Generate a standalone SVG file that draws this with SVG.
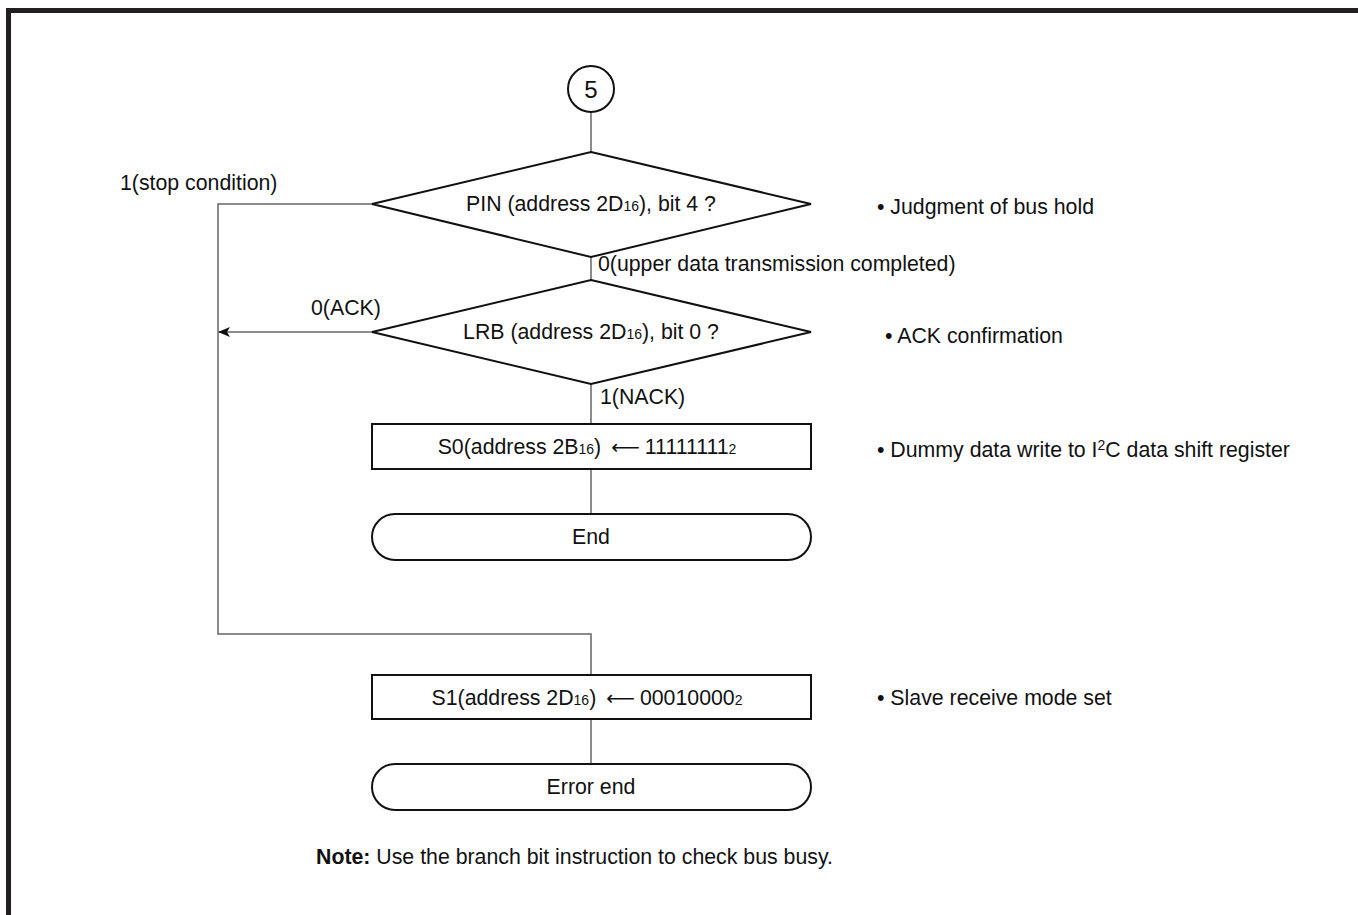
<svg xmlns="http://www.w3.org/2000/svg" width="1358" height="915" viewBox="0 0 1358 915">
<style>
  text { font-family: "Liberation Sans", Arial, sans-serif; font-size: 21.3px; fill: #111; }
  .c { text-anchor: middle; }
  .sub { font-size: 14px; }
  .arr { font-family: "DejaVu Sans", sans-serif; font-size: 20px; }
  .shape { fill: #fff; stroke: #111; stroke-width: 2; }
  .conn { fill: none; stroke: #666; stroke-width: 1.5; }
</style>
<defs>
  <marker id="ah" markerWidth="12" markerHeight="10" refX="11" refY="5" orient="auto" markerUnits="userSpaceOnUse">
    <path d="M0,0 L12,5 L0,10 L3,5 Z" fill="#111"/>
  </marker>
</defs>
<rect x="0" y="0" width="1358" height="915" fill="#fff"/>
<g id="frame">
  <rect x="6" y="8" width="1352" height="5" fill="#231f20"/>
  <rect x="6" y="8" width="5" height="907" fill="#231f20"/>
</g>
<g id="connectors">
  <path class="conn" d="M591,112 V152"/>
  <path class="conn" d="M591,257 V280"/>
  <path class="conn" d="M591,384 V424"/>
  <path class="conn" d="M591,469 V514"/>
  <path class="conn" d="M372,204 H218 V634 H591 V675"/>
  <path class="conn" d="M372,332 H219" marker-end="url(#ah)"/>
  <path class="conn" d="M591,719 V764"/>
</g>
<g id="n-start">
  <circle class="shape" cx="591" cy="89" r="23"/>
  <text class="c" x="591" y="98" style="font-size:24px">5</text>
</g>
<g id="n-pin">
  <polygon class="shape" points="591,152 811,204 591,257 372,204"/>
  <text class="c" x="591" y="211">PIN (address 2D<tspan class="sub">16</tspan>), bit 4 ?</text>
</g>
<g id="n-lrb">
  <polygon class="shape" points="591,280 811,332 591,384 372,332"/>
  <text class="c" x="591" y="339">LRB (address 2D<tspan class="sub">16</tspan>), bit 0 ?</text>
</g>
<g id="n-s0">
  <rect class="shape" x="372" y="424" width="439" height="45"/>
  <text class="c" x="587" y="454">S0(address 2B<tspan class="sub">16</tspan>)<tspan class="arr" dx="10">⟵</tspan><tspan dx="5">11111111</tspan><tspan class="sub">2</tspan></text>
</g>
<g id="n-end">
  <rect class="shape" x="372" y="514" width="439" height="46" rx="23" ry="23"/>
  <text class="c" x="591" y="544">End</text>
</g>
<g id="n-s1">
  <rect class="shape" x="372" y="675" width="439" height="44"/>
  <text class="c" x="587" y="705">S1(address 2D<tspan class="sub">16</tspan>)<tspan class="arr" dx="10">⟵</tspan><tspan dx="5">00010000</tspan><tspan class="sub">2</tspan></text>
</g>
<g id="n-errend">
  <rect class="shape" x="372" y="764" width="439" height="46" rx="23" ry="23"/>
  <text class="c" x="591" y="794">Error end</text>
</g>
<g id="labels">
  <text x="120" y="190">1(stop condition)</text>
  <text x="598" y="271">0(upper data transmission completed)</text>
  <text x="311" y="315">0(ACK)</text>
  <text x="600" y="404">1(NACK)</text>
</g>
<g id="notes">
  <text x="877" y="214">• Judgment of bus hold</text>
  <text x="885" y="343">• ACK confirmation</text>
  <text x="877" y="457">• Dummy data write to I<tspan class="sub" dy="-7">2</tspan><tspan dy="7">C data shift register</tspan></text>
  <text x="877" y="705">• Slave receive mode set</text>
  <text x="316" y="864"><tspan font-weight="bold">Note:</tspan> Use the branch bit instruction to check bus busy.</text>
</g>
</svg>
